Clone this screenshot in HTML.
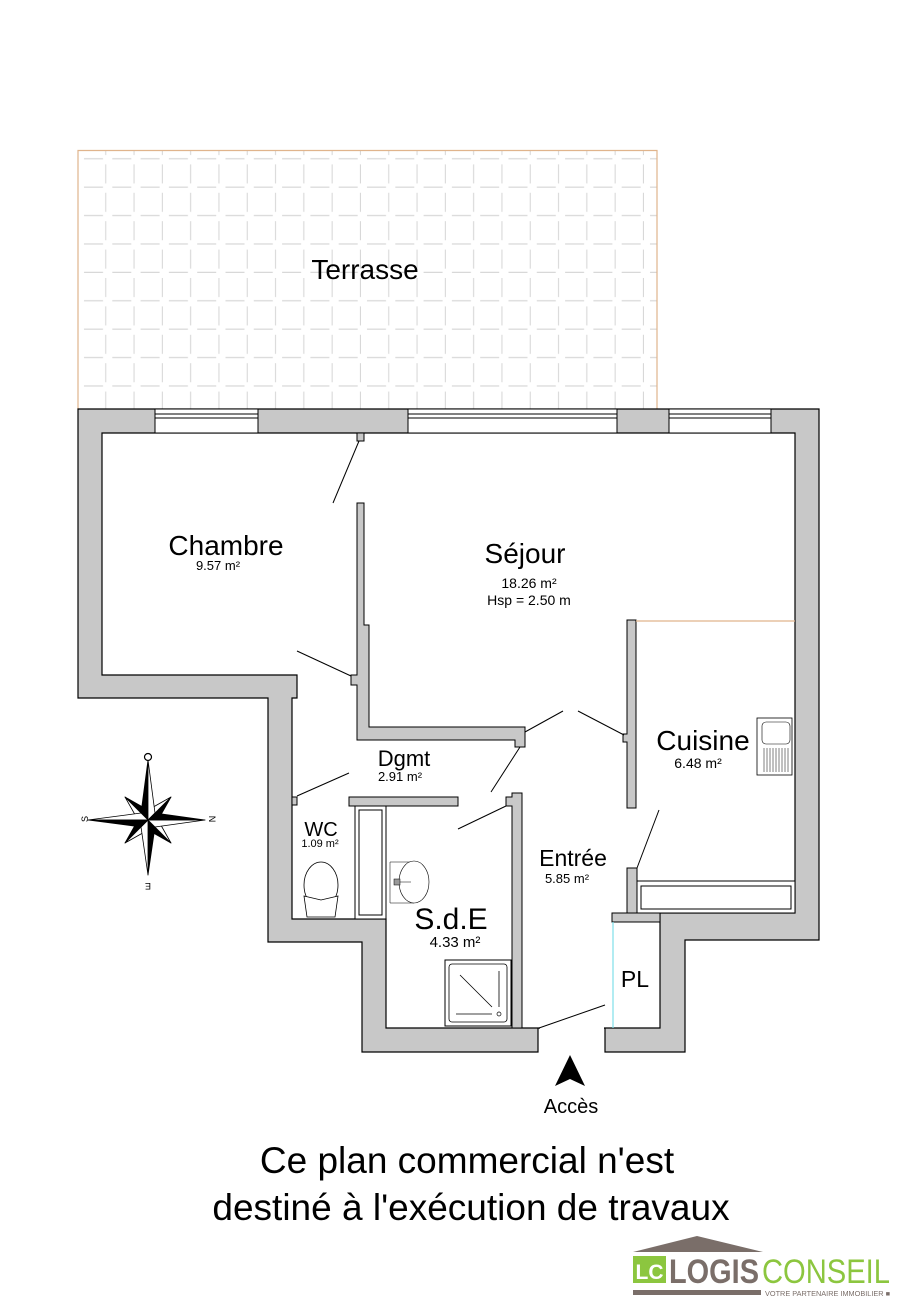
<!DOCTYPE html>
<html><head><meta charset="utf-8"><style>
html,body{margin:0;padding:0;background:#fff}
svg{display:block}
text{font-family:"Liberation Sans",sans-serif;fill:#000}
</style></head><body>
<svg width="911" height="1315" viewBox="0 0 911 1315" xmlns="http://www.w3.org/2000/svg">
<defs>
<pattern id="tile" x="78" y="131" width="28.3" height="28.4" patternUnits="userSpaceOnUse">
<path d="M6 28 H25 M28 5 V24" stroke="#d8d8d8" stroke-width="1.6" fill="none"/>
</pattern>
</defs>
<!-- Terrasse -->
<rect x="78" y="150" width="579" height="259" fill="url(#tile)"/>
<path d="M78 409 V150.5 H657 V409" fill="none" stroke="#e0b48c" stroke-width="1.2"/>
<text x="365" y="279" font-size="28" text-anchor="middle">Terrasse</text>

<!-- Outer gray mass -->
<polygon points="78,409 819,409 819,940 685,940 685,1052 605,1052 605,1028 538,1028 538,1052 362,1052 362,942 268,942 268,698 78,698" fill="#c8c8c8" stroke="#000" stroke-width="1.2"/>
<polygon points="102,433 795,433 795,913 660,913 660,1028 605,1028 538,1028 386,1028 386,919 292,919 292,698 297,698 297,675 102,675" fill="#fff" stroke="#000" stroke-width="1.2"/>
<rect x="540" y="1027" width="64" height="30" fill="#fff"/>
<rect x="612" y="913" width="48" height="9" fill="#c8c8c8" stroke="#000" stroke-width="1"/>
<line x1="613" y1="922" x2="613" y2="1028" stroke="#7fe0e8" stroke-width="1.2"/>

<!-- windows -->
<g fill="#fff" stroke="#000" stroke-width="1">
<rect x="155" y="409" width="103" height="24"/>
<rect x="408" y="409" width="209" height="24"/>
<rect x="669" y="409" width="102" height="24"/>
</g>
<g stroke="#000" stroke-width="1">
<line x1="155" y1="414" x2="258" y2="414"/><line x1="155" y1="418" x2="258" y2="418"/>
<line x1="408" y1="414" x2="617" y2="414"/><line x1="408" y1="418" x2="617" y2="418"/>
<line x1="669" y1="414" x2="771" y2="414"/><line x1="669" y1="418" x2="771" y2="418"/>
</g>

<!-- internal walls -->
<g fill="#c8c8c8" stroke="#000" stroke-width="1">
<rect x="357" y="433" width="7" height="8"/>
<polygon points="357,503 364,503 364,625 369,625 369,727 525,727 525,747 515,747 515,740 357,740 357,685 351,685 351,675 357,675"/>
<rect x="349" y="797" width="109" height="9"/>
<polygon points="512,793 522,793 522,1028 512,1028 512,806 506,806 506,797 512,797"/>
<polygon points="627,620 636,620 636,808 627,808 627,742 623,742 623,734 627,734"/>
<rect x="627" y="868" width="10" height="45"/>
<rect x="292" y="797" width="5" height="8"/>
</g>
<line x1="636" y1="621" x2="795" y2="621" stroke="#e0b48c" stroke-width="1.2"/>

<rect x="355" y="806" width="31" height="113" fill="#fff" stroke="#000" stroke-width="1"/>
<rect x="359" y="810" width="23" height="105" fill="#fff" stroke="#000" stroke-width="1"/>

<rect x="637" y="881" width="158" height="32" fill="#fff" stroke="#000" stroke-width="1"/>
<rect x="641" y="886" width="150" height="23" fill="#fff" stroke="#000" stroke-width="1"/>

<!-- sink -->
<rect x="757" y="718" width="35" height="57" fill="#fff" stroke="#000" stroke-width="0.8"/>
<rect x="762" y="722" width="28" height="22" rx="4" fill="#fff" stroke="#000" stroke-width="0.6"/>
<g stroke="#000" stroke-width="0.5">
<line x1="764" y1="748" x2="764" y2="772"/><line x1="767" y1="748" x2="767" y2="772"/><line x1="770" y1="748" x2="770" y2="772"/><line x1="773" y1="748" x2="773" y2="772"/><line x1="776" y1="748" x2="776" y2="772"/><line x1="779" y1="748" x2="779" y2="772"/><line x1="782" y1="748" x2="782" y2="772"/><line x1="785" y1="748" x2="785" y2="772"/><line x1="788" y1="748" x2="788" y2="772"/>
</g>

<!-- doors -->
<g stroke="#000" stroke-width="1" fill="none">
<line x1="359" y1="441" x2="333" y2="503"/>
<line x1="297" y1="651" x2="351" y2="676"/>
<line x1="525" y1="732" x2="563" y2="711"/>
<line x1="578" y1="711" x2="624" y2="735"/>
<line x1="520" y1="747" x2="491" y2="792"/>
<line x1="506" y1="806" x2="458" y2="829"/>
<line x1="297" y1="796" x2="349" y2="773"/>
<line x1="637" y1="868" x2="659" y2="810"/>
<line x1="539" y1="1028" x2="605" y2="1005"/>
</g>

<!-- shower -->
<rect x="445" y="960" width="66" height="66" fill="#fff" stroke="#000" stroke-width="1"/>
<rect x="449" y="964" width="58" height="58" rx="3" fill="#fff" stroke="#000" stroke-width="0.8"/>
<g stroke="#000" stroke-width="0.8"><line x1="460" y1="975" x2="492" y2="1007"/><line x1="499" y1="971" x2="499" y2="1007"/><line x1="456" y1="1014" x2="492" y2="1014"/></g>
<circle cx="499" cy="1014" r="2" fill="#fff" stroke="#000" stroke-width="0.7"/>

<!-- washbasin -->
<path d="M390 862 H414 M390 862 V903 H414" fill="none" stroke="#000" stroke-width="0.5"/>
<ellipse cx="414" cy="882" rx="15" ry="21" fill="#fff" stroke="#000" stroke-width="0.6"/>
<rect x="394" y="879" width="6" height="6" fill="#999" stroke="#000" stroke-width="0.5"/>
<line x1="400" y1="882" x2="411" y2="882" stroke="#000" stroke-width="0.5"/>

<!-- toilet -->
<ellipse cx="321" cy="885" rx="17" ry="23" fill="#fff" stroke="#000" stroke-width="0.8"/>
<path d="M304 896 L321 900 L338 896 L335 917 L307 917 Z" fill="#fff" stroke="#000" stroke-width="0.8"/>

<!-- labels -->
<text x="226" y="555" font-size="28" text-anchor="middle">Chambre</text>
<text x="218" y="570" font-size="13" text-anchor="middle">9.57 m²</text>
<text x="525" y="563" font-size="28" text-anchor="middle">Séjour</text>
<text x="529" y="588" font-size="14" text-anchor="middle">18.26 m²</text>
<text x="529" y="605" font-size="14" text-anchor="middle">Hsp = 2.50 m</text>
<text x="404" y="766" font-size="22" text-anchor="middle">Dgmt</text>
<text x="400" y="781" font-size="13" text-anchor="middle">2.91 m²</text>
<text x="321" y="836" font-size="20" text-anchor="middle">WC</text>
<text x="320" y="847" font-size="11" text-anchor="middle">1.09 m²</text>
<text x="451" y="929" font-size="30" text-anchor="middle">S.d.E</text>
<text x="455" y="947" font-size="15" text-anchor="middle">4.33 m²</text>
<text x="573" y="866" font-size="23" text-anchor="middle">Entrée</text>
<text x="567" y="883" font-size="13" text-anchor="middle">5.85 m²</text>
<text x="703" y="750" font-size="28" text-anchor="middle">Cuisine</text>
<text x="698" y="768" font-size="14" text-anchor="middle">6.48 m²</text>
<text x="635" y="987" font-size="23" text-anchor="middle">PL</text>

<!-- compass -->
<g stroke="#000" stroke-width="0.8" stroke-linejoin="round">
<polygon points="148,820 171,797 158,820" fill="#000"/><polygon points="148,820 171,797 148,810" fill="#fff"/>
<polygon points="148,820 125,797 148,810" fill="#000"/><polygon points="148,820 125,797 138,820" fill="#fff"/>
<polygon points="148,820 125,843 138,820" fill="#000"/><polygon points="148,820 125,843 148,830" fill="#fff"/>
<polygon points="148,820 171,843 148,830" fill="#000"/><polygon points="148,820 171,843 158,820" fill="#fff"/>
<polygon points="148,820 148,760 141,813" fill="#000"/><polygon points="148,820 148,760 155,813" fill="#fff"/>
<polygon points="148,820 148,875 155,827" fill="#000"/><polygon points="148,820 148,875 141,827" fill="#fff"/>
<polygon points="148,820 88,820 141,813" fill="#fff"/><polygon points="148,820 88,820 141,827" fill="#000"/>
<polygon points="148,820 205,820 155,827" fill="#fff"/><polygon points="148,820 205,820 155,813" fill="#000"/>
</g>
<circle cx="148" cy="757" r="3.5" fill="#fff" stroke="#000" stroke-width="1.2"/>
<text x="212" y="822" font-size="9" text-anchor="middle" transform="rotate(90 212 819)">N</text>
<text x="85" y="822" font-size="9" text-anchor="middle" transform="rotate(-90 85 819)">S</text>
<text x="148" y="889" font-size="9" text-anchor="middle" transform="rotate(180 148 886)">E</text>

<!-- Acces -->
<polygon points="570,1055 555,1086 570,1079 585,1086" fill="#000"/>
<text x="571" y="1113" font-size="20" text-anchor="middle">Accès</text>

<text x="467" y="1173" font-size="37" text-anchor="middle">Ce plan commercial n'est</text>
<text x="471" y="1220" font-size="37" text-anchor="middle">destiné à l'exécution de travaux</text>

<!-- logo -->
<polygon points="633,1252 697,1236 763,1252" fill="#7a6e69"/>
<rect x="633" y="1256" width="33" height="27" fill="#8cc63f"/>
<text x="649.5" y="1279" font-size="21" font-weight="bold" text-anchor="middle" style="fill:#fff">LC</text>
<text x="669" y="1283" font-size="34" font-weight="bold" textLength="90" lengthAdjust="spacingAndGlyphs" style="fill:#7a6e69">LOGIS</text>
<text x="762" y="1283" font-size="34" textLength="128" lengthAdjust="spacingAndGlyphs" style="fill:#8cc63f">CONSEIL</text>
<rect x="633" y="1290" width="128" height="5" fill="#7a6e69"/>
<text x="765" y="1296" font-size="7" textLength="125" lengthAdjust="spacingAndGlyphs" style="fill:#7a6e69">VOTRE PARTENAIRE IMMOBILIER ■</text>
</svg>
</body></html>
